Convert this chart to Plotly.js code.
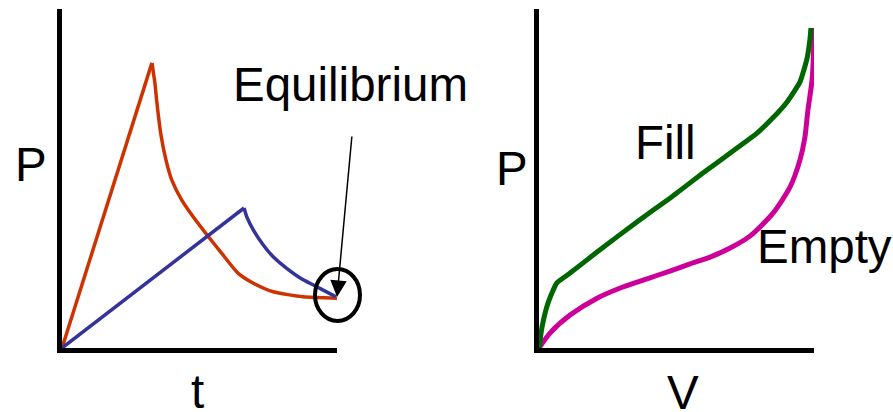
<!DOCTYPE html>
<html>
<head>
<meta charset="utf-8">
<script src="https://cdn.plot.ly/plotly-3.0.1.min.js"></script>
<style>
  html, body { margin: 0; padding: 0; background: #ffffff; }
  #chart { width: 893px; height: 412px; }
</style>
</head>
<body>
<div id="chart"></div>
<script>
// ---- Left panel: pressure vs time (two fillings reaching equilibrium) ----
var redRiseT   = [0, 3.27];
var redRiseP   = [0, 8.41];
var redDecayT  = [3.27, 3.38, 3.44, 3.59, 3.78, 3.99, 4.35, 4.77, 5.23, 5.81, 6.41, 6.96, 7.68, 8.77, 10.0];
var redDecayP  = [8.41, 7.81, 7.32, 6.33, 5.55, 4.96, 4.37, 3.87, 3.38, 2.79, 2.20, 1.91, 1.66, 1.51, 1.47];

var blueRiseT  = [0, 6.62];
var blueRiseP  = [0, 4.13];
var blueDecayT = [6.62, 6.72, 6.96, 7.32, 7.68, 8.17, 8.77, 9.38, 9.96];
var blueDecayP = [4.13, 3.87, 3.48, 3.04, 2.69, 2.35, 2.01, 1.76, 1.51];

// ---- Right panel: pressure vs volume (fill / empty hysteresis) ----
var fillV  = [0, 0.11, 0.33, 0.65, 1.13, 2.11, 3.56, 4.76, 5.96, 7.20, 7.93, 8.47, 9.02, 9.49, 9.75, 9.85, 9.89];
var fillP  = [0, 0.62, 1.33, 1.92, 2.21, 2.83, 3.72, 4.42, 5.16, 5.90, 6.34, 6.76, 7.26, 7.85, 8.55, 9.09, 9.44];
var emptyV = [0, 0.40, 1.13, 2.11, 3.05, 3.93, 4.76, 5.49, 6.22, 6.95, 7.67, 8.51, 9.13, 9.49, 9.67, 9.78, 9.93, 9.98, 10.0];
var emptyP = [0, 0.44, 0.97, 1.47, 1.80, 2.04, 2.27, 2.48, 2.68, 2.95, 3.30, 3.98, 4.75, 5.55, 6.22, 7.02, 7.91, 8.64, 9.44];

// ---- Text labels ----
var labelLeftY  = "P";
var labelLeftX  = "t";
var labelRightY = "P";
var labelRightX = "V";
var labelEquil  = "Equilibrium";
var labelFill   = "Fill";
var labelEmpty  = "Empty";

var W = 893, H = 412;
function px(x) { return x / W; }
function py(y) { return 1 - y / H; }

var RED = "#CC3300", BLUE = "#333399", GREEN = "#006600", MAGENTA = "#CC0099";

var traces = [
  {x: redRiseT, y: redRiseP, xaxis: "x", yaxis: "y", mode: "lines", line: {color: RED, width: 3.5}},
  {x: redDecayT, y: redDecayP, xaxis: "x", yaxis: "y", mode: "lines", line: {color: RED, width: 3.5, shape: "spline", smoothing: 0.6}},
  {x: blueRiseT, y: blueRiseP, xaxis: "x", yaxis: "y", mode: "lines", line: {color: BLUE, width: 3.5}},
  {x: blueDecayT, y: blueDecayP, xaxis: "x", yaxis: "y", mode: "lines", line: {color: BLUE, width: 3.5, shape: "spline", smoothing: 0.6}},
  {x: emptyV, y: emptyP, xaxis: "x2", yaxis: "y2", mode: "lines", line: {color: MAGENTA, width: 5, shape: "spline", smoothing: 0.7}},
  {x: fillV, y: fillP, xaxis: "x2", yaxis: "y2", mode: "lines", line: {color: GREEN, width: 5, shape: "spline", smoothing: 0.5}}
];

var axisCommon = {
  showline: true, linecolor: "#000000", linewidth: 5,
  showgrid: false, zeroline: false, showticklabels: false, ticks: "",
  fixedrange: true
};

var FONT = {family: "Liberation Sans, Arial, Helvetica, sans-serif", size: 47.5, color: "#000000"};

function label(text, x, y, xanchor) {
  return {text: text, xref: "paper", yref: "paper", x: px(x), y: py(y),
          xanchor: xanchor, yanchor: "middle", showarrow: false, font: FONT};
}

var layout = {
  width: W, height: H,
  margin: {l: 0, r: 0, t: 0, b: 0},
  paper_bgcolor: "#ffffff", plot_bgcolor: "#ffffff",
  showlegend: false,
  xaxis:  Object.assign({}, axisCommon, {domain: [px(62), px(337)], range: [0, 10], anchor: "y"}),
  yaxis:  Object.assign({}, axisCommon, {domain: [py(348), py(9)], range: [0, 10], anchor: "x"}),
  xaxis2: Object.assign({}, axisCommon, {domain: [px(539), px(814)], range: [0, 10], anchor: "y2"}),
  yaxis2: Object.assign({}, axisCommon, {domain: [py(348), py(9)], range: [0, 10], anchor: "x2"}),
  shapes: [
    {type: "circle", xref: "paper", yref: "paper",
     x0: px(315), x1: px(360), y0: py(321), y1: py(269),
     line: {color: "#000000", width: 4}}
  ],
  annotations: [
    label(labelLeftY, 31, 165, "center"),
    label(labelLeftX, 197, 391, "center"),
    label(labelRightY, 512, 168, "center"),
    label(labelRightX, 683, 392, "center"),
    label(labelEquil, 231, 84, "left"),
    label(labelFill, 633, 142, "left"),
    label(labelEmpty, 755, 247, "left"),
    {text: "", xref: "paper", yref: "paper", x: px(337), y: py(297),
     ax: 15, ay: -162, axref: "pixel", ayref: "pixel",
     showarrow: true, arrowhead: 2, arrowsize: 2.2, arrowwidth: 1.5, arrowcolor: "#000000", standoff: 0}
  ]
};

Plotly.newPlot("chart", traces, layout, {displayModeBar: false, staticPlot: true});
</script>
</body>
</html>
